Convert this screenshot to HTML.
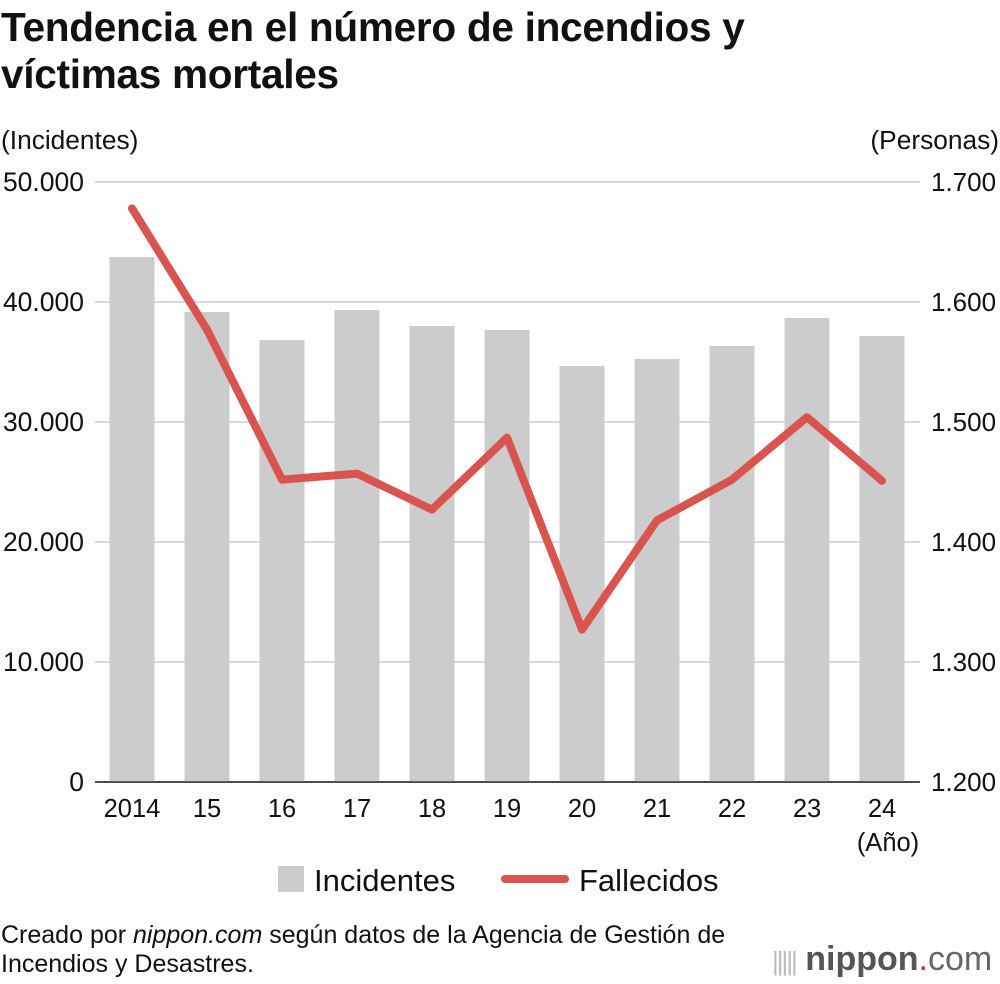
<!DOCTYPE html>
<html><head><meta charset="utf-8"><style>
body{margin:0;background:#fff;font-family:"Liberation Sans",sans-serif;}
#wrap{position:relative;width:1000px;height:984px;overflow:hidden;}
.t{position:absolute;color:#111;white-space:nowrap;}
</style></head><body>
<div id="wrap">
<div class="t" style="left:1px;top:4px;font-size:40.6px;font-weight:bold;line-height:47px;letter-spacing:-0.3px;">Tendencia en el número de incendios y<br>víctimas mortales</div>
<div class="t" style="left:1px;top:125px;font-size:26.3px;">(Incidentes)</div>
<div class="t" style="right:1px;top:125px;font-size:26.3px;">(Personas)</div>
<svg id="ch" width="1000" height="984" style="position:absolute;left:0;top:0"></svg>
<div class="t" style="left:1px;top:921px;font-size:25px;line-height:29px;">Creado por <i>nippon.com</i> según datos de la Agencia de Gestión de<br>Incendios y Desastres.</div>
<div class="t" style="left:772px;top:940px;font-size:34px;color:#666;"><span style="color:#bbb;font-size:26px;letter-spacing:-2px">|||||</span> <b style="color:#555">nippon</b><span style="color:#e0202a">.</span>com</div>
</div>
<script>
const years=["2014","15","16","17","18","19","20","21","22","23","24"];
const incidents=[43750,39170,36830,39330,38000,37670,34670,35250,36330,38670,37170];
const deaths=[1678,1577,1452,1457,1427,1487,1327,1418,1452,1504,1451];
const leftTicks=[0,10000,20000,30000,40000,50000];
const rightTicks=[1200,1300,1400,1500,1600,1700];
const NS="http://www.w3.org/2000/svg",svg=document.getElementById('ch');
const x0=95,x1=920,yB=782,yT=182;
const yL=v=>yB-(v/50000)*(yB-yT);
const yR=v=>yB-((v-1200)/500)*(yB-yT);
const xC=i=>132+i*75;
const fmt=v=>v.toLocaleString('de-DE');
function el(t,a){const e=document.createElementNS(NS,t);for(const k in a)e.setAttribute(k,a[k]);svg.appendChild(e);return e;}
leftTicks.forEach((v,i)=>{
 const g=el('line',{x1:x0,x2:x1,y1:yL(v),y2:yL(v),stroke:i==0?'#333':'#ccc','stroke-width':1.5});
 
 const t=el('text',{x:84,y:yL(v)+9,'text-anchor':'end','font-size':26.5,fill:'#111'});t.textContent=fmt(v);
 
});
rightTicks.forEach(v=>{
 const t=el('text',{x:931,y:yR(v)+9,'font-size':26,fill:'#111'});t.textContent=fmt(v);
 
});
incidents.forEach((v,i)=>{
 const r=el('rect',{x:xC(i)-22.5,y:yL(v),width:45,height:yB-yL(v),fill:'#cccccc'});
 
 const t=el('text',{x:xC(i),y:817,'text-anchor':'middle','font-size':25.5,fill:'#111'});t.textContent=years[i];
 
});
const ax=el('line',{x1:x0,x2:x1,y1:yB,y2:yB,stroke:'#333','stroke-width':1.5});

const yr=el('text',{x:xC(10)+6,y:851,'text-anchor':'middle','font-size':25.5,fill:'#111'});yr.textContent='(Año)';

const pl=el('polyline',{points:deaths.map((v,i)=>xC(i)+','+yR(v)).join(' '),fill:'none',stroke:'#d9534f','stroke-width':8,'stroke-linejoin':'round','stroke-linecap':'round'});

const lr=el('rect',{x:278,y:866,width:26,height:26,fill:'#cccccc'});

const lt=el('text',{x:314,y:891,'font-size':31,fill:'#111'});lt.textContent='Incidentes';

const ll=el('line',{x1:505,x2:565,y1:879,y2:879,stroke:'#d9534f','stroke-width':8,'stroke-linecap':'round'});

const lt2=el('text',{x:579,y:891,'font-size':31,fill:'#111'});lt2.textContent='Fallecidos';

</script>
</body></html>
